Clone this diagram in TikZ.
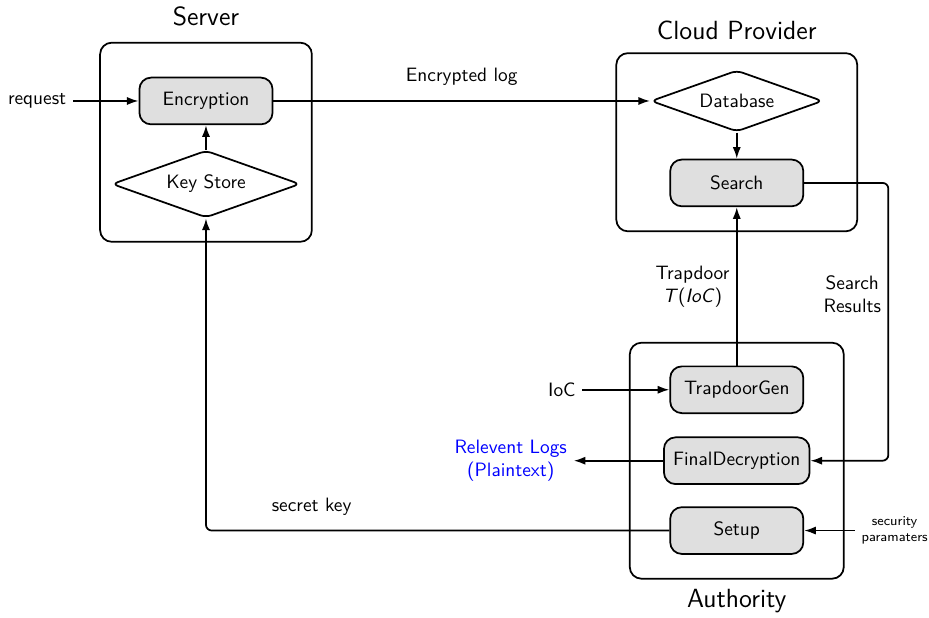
\documentclass[tikz,border=0pt]{standalone}
\usepackage{amsmath,amssymb}
\usepackage{tikz}
\usetikzlibrary{shapes, arrows, arrows.meta, positioning}
\renewcommand{\familydefault}{\sfdefault}
\tikzstyle{decision} =
        [
                diamond,
                draw,
                aspect = 2.8,
                inner sep = 4pt,
                rounded corners = 3pt,
                line width = 0.9pt
        ]
\tikzstyle{block} =
        [
                rectangle,
                draw,
                fill = gray!25,
                text centered,
                rounded corners = 6pt,
                inner xsep = 4.7pt,
                minimum width = 2.42cm,
                minimum height = 0.85cm,
                line width = 0.9pt
        ]
\tikzstyle{group} =
        [
                rectangle,
                draw,
                rounded corners = 6pt,
                line width = 0.9pt
        ]
\tikzstyle{title} =
        [
                font = \fontsize{13.6}{16}\selectfont
        ]
\tikzstyle{line} =
        [
                draw,
                line width = 0.9pt,
                rounded corners = 3pt,
                -{Latex[length = 6pt, width = 4.2pt]}
        ]

\begin{document}
\begin{tikzpicture}[node distance = 2.5cm, auto]
        \useasboundingbox (-3.745,1.836) rectangle (13.145,-9.382);
        \node [block] (encryption) {Encryption};
        \node [decision, below of = encryption, node distance = 1.51cm] (keystore) {Key Store};
        \node [left of = encryption, node distance = 3.07cm] (request) {request};
        \node [decision, right of = encryption, node distance = 9.65cm] (database) {Database};
        \node [block, below of = database, node distance = 1.49cm] (search) {Search};
        \node [block, below of = search, node distance = 3.76cm] (trapdoorgen) {TrapdoorGen};
        \node [block, below of = trapdoorgen, node distance = 1.29cm] (finaldecryption) {FinalDecryption};
        \node [block, below of = finaldecryption, node distance = 1.27cm] (setup) {Setup};
        \node [left of = trapdoorgen, node distance = 3.18cm] (ioc) {IoC};
        \node [left of = finaldecryption, node distance = 4.11cm, text = blue, align = center] (logs) {Relevent Logs\\(Plaintext)};
        \node [right of = setup, node distance = 2.87cm, font = \scriptsize, align = center] (secparams) {security\\paramaters};
        \node [group, below of = encryption, node distance = 0.75cm, minimum width = 3.85cm, minimum height = 3.62cm] (server) {};
        \node [group, below of = database, node distance = 0.75cm, minimum width = 4.38cm, minimum height = 3.24cm] (cloud) {};
        \node [group, minimum width = 3.89cm, minimum height = 4.29cm] at (finaldecryption) (authority) {};
        \node [title, above of = server, node distance = 2.28cm] (servertitle) {Server};
        \node [title, above of = cloud, node distance = 2.04cm] (cloudtitle) {Cloud Provider};
        \node [title, below of = authority, node distance = 2.56cm] (authoritytitle) {Authority};
        \path [line] (request) -- (encryption);
        \path [line] (keystore) -- (encryption);
        \path [line] (encryption) -- node [above = 4pt] {Encrypted log} (database);
        \path [line] (database) -- (search);
        \path [line] (trapdoorgen) -- node [left, align = center] {Trapdoor\\\textit{T}(\textit{IoC})} (search);
        \path [line] (search.east) -- ++(1.53,0) |- node [pos = 0.2, left, align = center] {Search\\Results} (finaldecryption);
        \path [line] (finaldecryption) -- (logs);
        \path [line] (ioc) -- (trapdoorgen);
        \path [line] (secparams) -- (setup);
        \path [line] (setup) -| node [pos = 0.386, above = 4pt] {secret key} (keystore);
\end{tikzpicture}
\end{document}
